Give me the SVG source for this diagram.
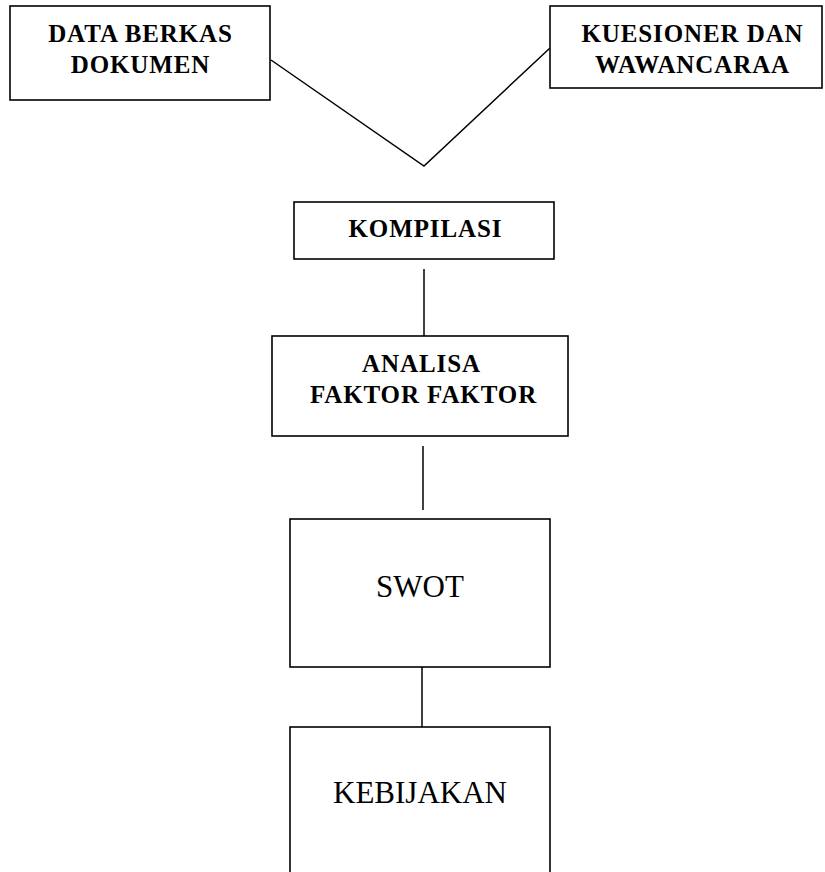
<svg xmlns="http://www.w3.org/2000/svg" width="825" height="872" viewBox="0 0 825 872">
<style>
.box{fill:#fff;stroke:#000;stroke-width:1.6}
.con{fill:none;stroke:#000;stroke-width:1.5}
.b{font-family:"Liberation Serif",serif;font-weight:bold;font-size:25px;letter-spacing:0.9px;text-anchor:middle;fill:#000}
.n{font-family:"Liberation Serif",serif;font-size:31px;text-anchor:middle;fill:#000}
</style>
<rect width="825" height="872" fill="#fff"/>
<g id="connectors">
<polyline class="con" points="271,60 424,166 550,48"/>
<line class="con" x1="424" y1="269" x2="424" y2="337"/>
<line class="con" x1="423" y1="446" x2="423" y2="510"/>
<line class="con" x1="422" y1="662" x2="422" y2="730"/>
</g>
<g id="data-berkas">
<rect class="box" x="10" y="6" width="260" height="94"/>
<text class="b" x="140.5" y="42">DATA BERKAS</text>
<text class="b" x="140.5" y="73">DOKUMEN</text>
</g>
<g id="kuesioner">
<rect class="box" x="550" y="6" width="272" height="82"/>
<text class="b" x="692.5" y="42">KUESIONER DAN</text>
<text class="b" x="692.5" y="73">WAWANCARAA</text>
</g>
<g id="kompilasi">
<rect class="box" x="294" y="202" width="260" height="57"/>
<text class="b" x="425.5" y="237">KOMPILASI</text>
</g>
<g id="analisa">
<rect class="box" x="272" y="336" width="296" height="100"/>
<text class="b" x="421.5" y="372">ANALISA</text>
<text class="b" x="423.5" y="403">FAKTOR FAKTOR</text>
</g>
<g id="swot">
<rect class="box" x="290" y="519" width="260" height="148"/>
<text class="n" x="420" y="597">SWOT</text>
</g>
<g id="kebijakan">
<rect class="box" x="290" y="727" width="260" height="160"/>
<text class="n" x="420" y="803">KEBIJAKAN</text>
</g>
</svg>
